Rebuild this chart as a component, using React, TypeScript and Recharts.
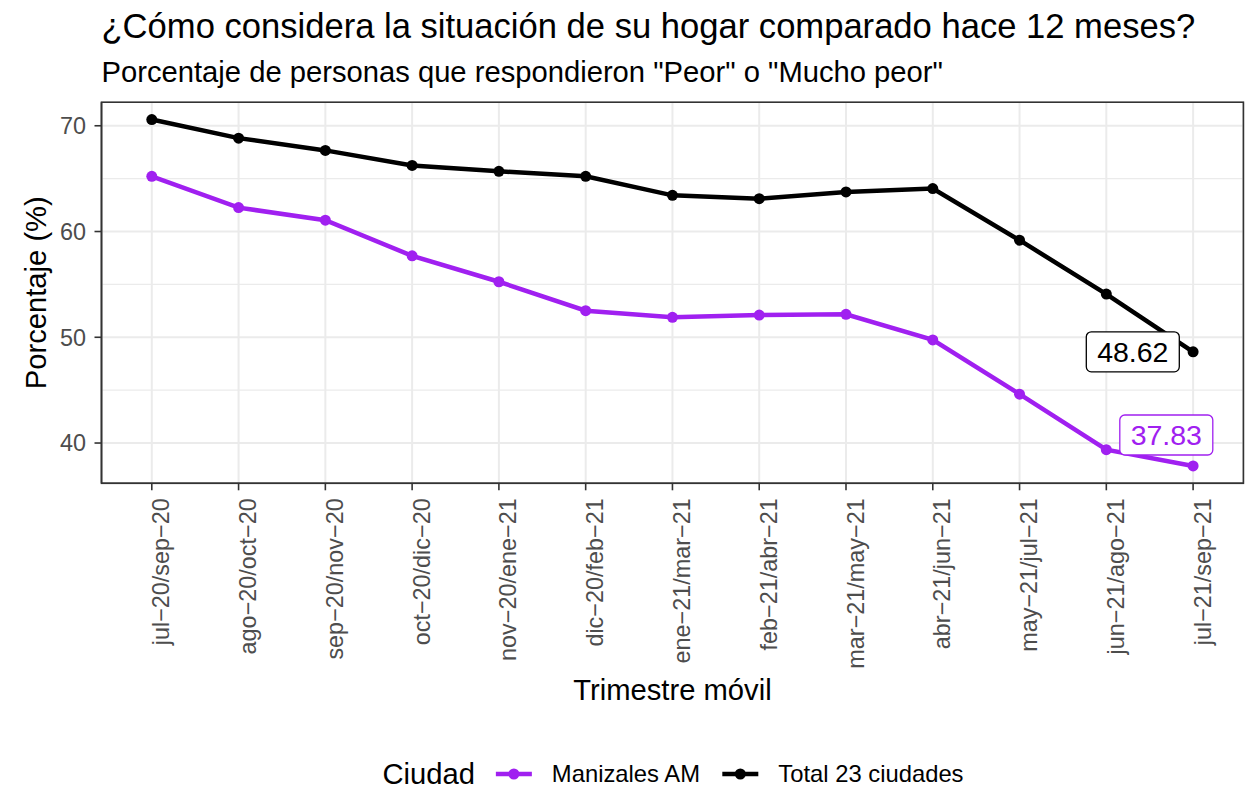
import React from 'react';
import { LineChart, Line, XAxis, YAxis, CartesianGrid, Legend, LabelList, Label, Customized } from 'recharts';

const FONT = '"Liberation Sans", Arial, Helvetica, sans-serif';

const periods = [
  'jul−20/sep−20', 'ago−20/oct−20', 'sep−20/nov−20', 'oct−20/dic−20', 'nov−20/ene−21',
  'dic−20/feb−21', 'ene−21/mar−21', 'feb−21/abr−21', 'mar−21/may−21', 'abr−21/jun−21',
  'may−21/jul−21', 'jun−21/ago−21', 'jul−21/sep−21',
];
const manizales = [65.22, 62.26, 61.07, 57.70, 55.25, 52.51, 51.89, 52.10, 52.17, 49.75, 44.62, 39.37, 37.83];
const total23 = [70.59, 68.83, 67.67, 66.25, 65.69, 65.22, 63.42, 63.11, 63.74, 64.06, 59.18, 54.08, 48.62];
const seriesNames = ['Manizales AM', 'Total 23 ciudades'];
const seriesColors = ['#A020F0', '#000000'];
const legendTitle = 'Ciudad';
const yTicks = [40, 50, 60, 70];
const yMinor = [45, 55, 65];

const data = periods.map((p, i) => ({ periodo: p, manizales: manizales[i], total: total23[i] }));

const allVals = [...manizales, ...total23];
const lo = Math.min(...allVals);
const hi = Math.max(...allVals);
const pad = (hi - lo) * 0.05;
const yDomain: [number, number] = [lo - pad, hi + pad];

const GRID = '#EBEBEB';
const BORDER = '#333333';
const TICK_TEXT = '#4D4D4D';

const W = 1248;
const H = 786;
const M_TOP = 102.2;
const M_RIGHT = 4.6;
const Y_AXIS_W = 101.5;
const X_AXIS_H = 302.7;
const PANEL_W = W - M_RIGHT - Y_AXIS_W;

let measureCtx: CanvasRenderingContext2D | null = null;
const measure = (text: string, size: number) => {
  try {
    if (!measureCtx && typeof document !== 'undefined') {
      measureCtx = document.createElement('canvas').getContext('2d');
    }
    if (measureCtx) {
      measureCtx.font = `${size}px "Liberation Sans", Arial, sans-serif`;
      return measureCtx.measureText(text).width;
    }
  } catch (e) {
    /* ignore */
  }
  return text.length * size * 0.55;
};

const XTick = (props: any) => {
  const { x, y, payload } = props;
  return (
    <text
      transform={`translate(${x + 17.5},${y}) rotate(-90)`}
      textAnchor="end"
      fontSize={23.4}
      fill={TICK_TEXT}
      fontFamily={FONT}
    >
      {payload.value}
    </text>
  );
};

const YTick = (props: any) => {
  const { x, y, payload } = props;
  return (
    <text x={x} y={y} dy="0.355em" textAnchor="end" fontSize={23.4} fill={TICK_TEXT} fontFamily={FONT}>
      {payload.value}
    </text>
  );
};

const makeEndLabel = (color: string, values: number[], dx: number, dy: number) => (props: any) => {
  const vb = props.viewBox || {};
  const x = props.x ?? vb.x;
  const y = props.y ?? vb.y;
  const last = values.length - 1;
  const isLast = props.index !== undefined ? props.index === last : props.value === values[last];
  if (!isLast || x == null || y == null) return null;
  const w = 93;
  const h = 40;
  const cx = x + dx;
  const cy = y + dy;
  return (
    <g>
      <rect x={cx - w / 2} y={cy - h / 2} width={w} height={h} rx={5} ry={5} fill="#ffffff" stroke={color} strokeWidth={1.3} />
      <text x={cx} y={cy} dy="0.36em" textAnchor="middle" fontSize={28.5} fill={color} fontFamily={FONT}>
        {Number(props.value).toFixed(2)}
      </text>
    </g>
  );
};

const LEG_H = 50;
const TITLE_SIZE = 29.2;
const ITEM_SIZE = 23.8;
const KEY_W = 36;

const LegendContent = () => {
  const wTitle = measure(legendTitle, TITLE_SIZE);
  const wItems = seriesNames.map((n) => measure(n, ITEM_SIZE));
  const gapTitle = 21;
  const gapKey = 20;
  const gapItem = 21;
  const total = wTitle + gapTitle + wItems.reduce((s, w) => s + KEY_W + gapKey + w, 0) + gapItem * (seriesNames.length - 1);
  let cursor = (PANEL_W - total) / 2;
  const cy = LEG_H / 2;
  const parts: React.ReactNode[] = [];
  parts.push(
    <text key="t" x={cursor} y={cy} dy="0.355em" fontSize={TITLE_SIZE} fill="#000" fontFamily={FONT}>
      {legendTitle}
    </text>
  );
  cursor += wTitle + gapTitle;
  seriesNames.forEach((n, i) => {
    parts.push(
      <g key={`k${i}`}>
        <line x1={cursor} x2={cursor + KEY_W} y1={cy} y2={cy} stroke={seriesColors[i]} strokeWidth={4.5} />
        <circle cx={cursor + KEY_W / 2} cy={cy} r={5.5} fill={seriesColors[i]} />
      </g>
    );
    cursor += KEY_W + gapKey;
    parts.push(
      <text key={`n${i}`} x={cursor} y={cy} dy="0.355em" fontSize={ITEM_SIZE} fill="#000" fontFamily={FONT}>
        {n}
      </text>
    );
    cursor += wItems[i] + gapItem;
  });
  return (
    <svg width={PANEL_W} height={LEG_H} style={{ display: 'block', overflow: 'visible' }}>
      {parts}
    </svg>
  );
};

const Titles = () => (
  <g fontFamily={FONT}>
    <text x={Y_AXIS_W} y={38} fontSize={34.6} fill="#000">
      ¿Cómo considera la situación de su hogar comparado hace 12 meses?
    </text>
    <text x={Y_AXIS_W} y={82} fontSize={29.2} fill="#000">
      Porcentaje de personas que respondieron "Peor" o "Mucho peor"
    </text>
  </g>
);

const PanelBorder = () => (
  <rect
    x={Y_AXIS_W}
    y={M_TOP}
    width={PANEL_W}
    height={H - X_AXIS_H - M_TOP}
    fill="none"
    stroke={BORDER}
    strokeWidth={1.6}
  />
);

export default function App() {
  return (
    <div style={{ width: W, height: H, background: '#fff' }}>
      <style>{'html,body{margin:0;padding:0;overflow:hidden;background:#fff}'}</style>
      <LineChart
        width={W}
        height={H}
        data={data}
        margin={{ top: M_TOP, right: M_RIGHT, left: 0, bottom: 0 }}
      >
        <CartesianGrid stroke={GRID} strokeWidth={1.4} vertical={false} horizontalValues={yMinor} />
        <CartesianGrid stroke={GRID} strokeWidth={2} horizontalValues={yTicks} />
        <XAxis
          dataKey="periodo"
          type="category"
          interval={0}
          padding={{ left: 50.3, right: 50.3 }}
          height={X_AXIS_H}
          tickSize={7}
          tickMargin={8}
          tick={<XTick />}
          tickLine={{ stroke: BORDER, strokeWidth: 1.6 }}
          axisLine={{ stroke: BORDER, strokeWidth: 1.6 }}
        >
          <Label
            content={(p: any) => {
              const vb = p.viewBox || {};
              return (
                <text
                  x={vb.x + vb.width / 2}
                  y={vb.y + 216.7}
                  textAnchor="middle"
                  fontSize={29.2}
                  fill="#000"
                  fontFamily={FONT}
                >
                  Trimestre móvil
                </text>
              );
            }}
          />
        </XAxis>
        <YAxis
          type="number"
          domain={yDomain}
          allowDataOverflow
          ticks={yTicks}
          interval={0}
          width={Y_AXIS_W}
          tickSize={7}
          tickMargin={8.5}
          tick={<YTick />}
          tickLine={{ stroke: BORDER, strokeWidth: 1.6 }}
          axisLine={{ stroke: BORDER, strokeWidth: 1.6 }}
        >
          <Label
            content={(p: any) => {
              const vb = p.viewBox || {};
              const cy = vb.y + vb.height / 2;
              return (
                <text
                  transform={`translate(46,${cy}) rotate(-90)`}
                  textAnchor="middle"
                  fontSize={29.2}
                  fill="#000"
                  fontFamily={FONT}
                >
                  Porcentaje (%)
                </text>
              );
            }}
          />
        </YAxis>
        <Line
          dataKey="manizales"
          name={seriesNames[0]}
          stroke={seriesColors[0]}
          strokeWidth={4.5}
          dot={{ r: 5.5, fill: seriesColors[0], stroke: seriesColors[0], strokeWidth: 0 }}
          activeDot={false}
          isAnimationActive={false}
        >
          <LabelList dataKey="manizales" content={makeEndLabel(seriesColors[0], manizales, -26.8, -31)} />
        </Line>
        <Line
          dataKey="total"
          name={seriesNames[1]}
          stroke={seriesColors[1]}
          strokeWidth={4.5}
          dot={{ r: 5.5, fill: seriesColors[1], stroke: seriesColors[1], strokeWidth: 0 }}
          activeDot={false}
          isAnimationActive={false}
        >
          <LabelList dataKey="total" content={makeEndLabel(seriesColors[1], total23, -60.3, 0)} />
        </Line>
        <Legend
          layout="horizontal"
          verticalAlign="middle"
          align="center"
          content={<LegendContent />}
          wrapperStyle={{ position: 'absolute', left: Y_AXIS_W, top: 749, width: PANEL_W, height: LEG_H }}
        />
        <Customized component={<PanelBorder />} />
        <Customized component={<Titles />} />
      </LineChart>
    </div>
  );
}
